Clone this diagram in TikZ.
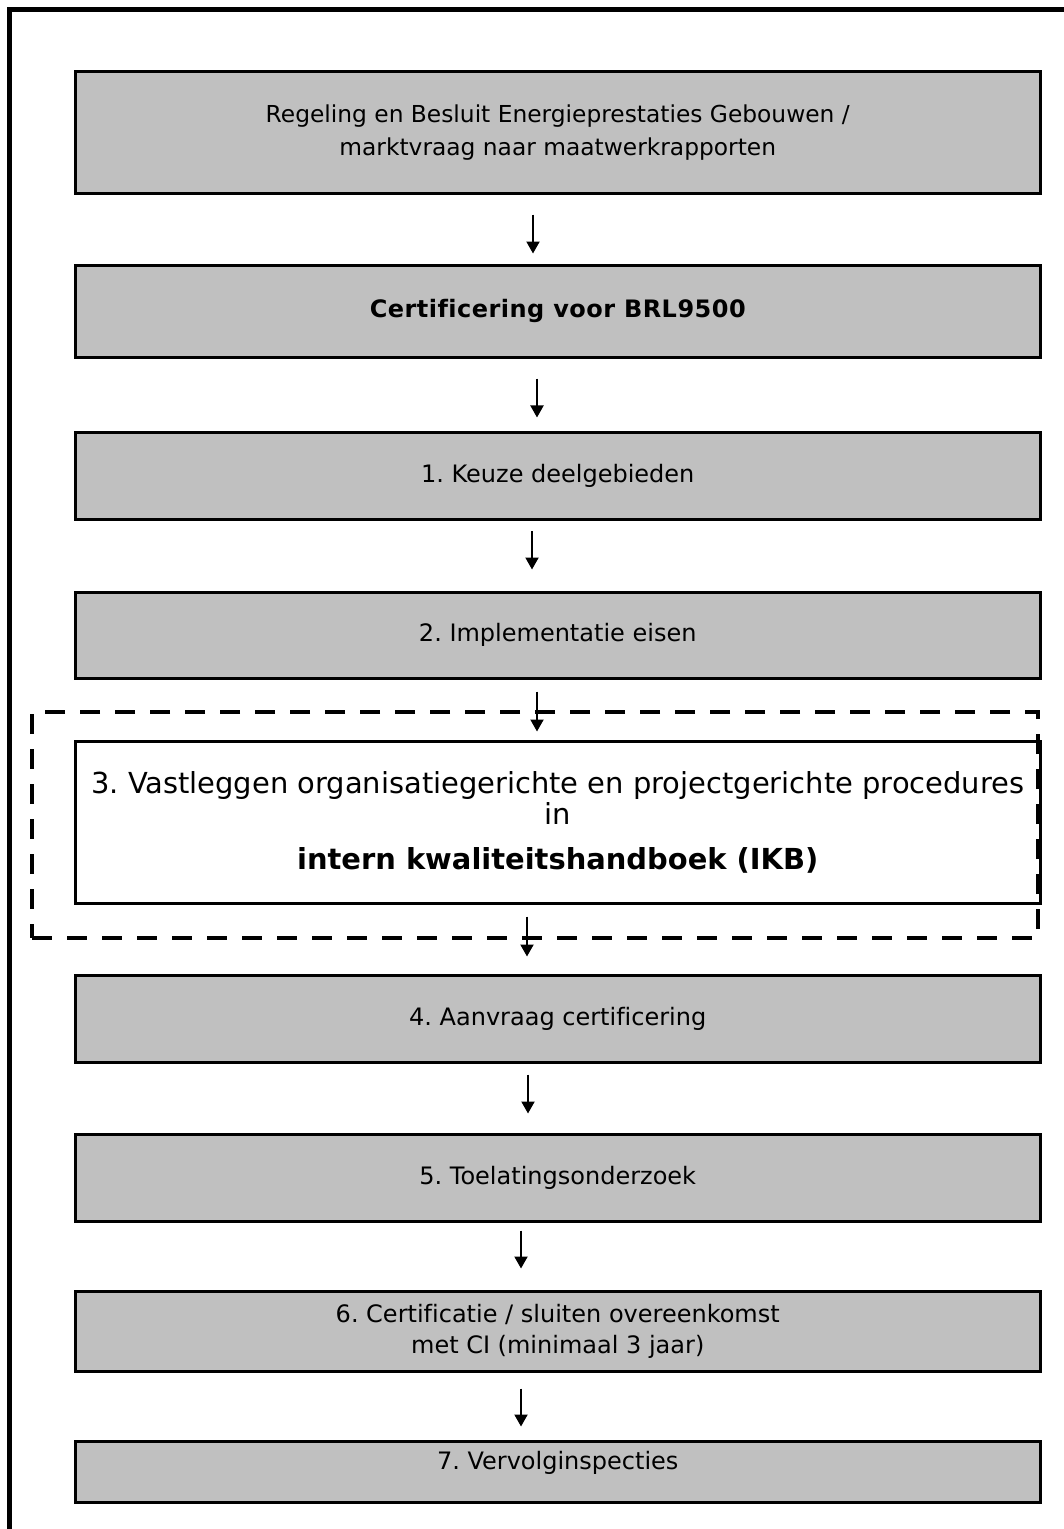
\documentclass[tikz,border=0pt]{standalone}
\usepackage{fontspec}
\setmainfont[Ligatures=NoCommon]{DejaVu Sans}
\usetikzlibrary{arrows.meta,calc}
\frenchspacing
\tikzset{
  box/.style={draw=black, line width=2.25pt, fill=boxgray, minimum width=723.375pt, inner sep=0pt, align=center, font=\fontsize{18pt}{24.75pt}\selectfont},
  arr/.style={line width=1.5pt, -{Triangle[width=9.75pt,length=9pt]}},
}
\definecolor{boxgray}{RGB}{192,192,192}
\begin{document}
\begin{tikzpicture}[x=0.75pt,y=-0.75pt]
\useasboundingbox (0,0) rectangle (1064,1529);
\clip (0,0) rectangle (1064,1529);
\fill[white] (0,0) rectangle (1064,1529);
\draw[line width=3.75pt] (1100,9.5) -- (9.5,9.5) -- (9.5,1600);

\node[box, minimum height=91.5pt, font=\fontsize{17.5pt}{24.75pt}\selectfont] (b1) at (557.75,132.5) {\raisebox{-4.5pt}{Regeling en Besluit Energieprestaties Gebouwen /}\\\raisebox{-4.5pt}{marktvraag naar maatwerkrapporten}};
\node[box, minimum height=69pt] (b2) at (557.75,311) {\bfseries\addfontfeatures{LetterSpace=2}Certificering voor BRL9500};
\node[box, minimum height=64.9pt] (b3) at (557.75,476.25) {1. Keuze deelgebieden};
\node[box, minimum height=64.5pt] (b4) at (557.75,635) {2. Implementatie eisen};
\node[box, fill=white, minimum height=121.5pt, font=\fontsize{21.7pt}{23.25pt}\selectfont] (b5) at (557.75,822) {3. Vastleggen organisatiegerichte en projectgerichte procedures\\in\\[10.5pt]\bfseries intern kwaliteitshandboek (IKB)};
\node[box, minimum height=65.25pt] (b6) at (557.75,1018.5) {4. Aanvraag certificering};
\node[box, minimum height=65.25pt] (b7) at (557.75,1177.5) {5. Toelatingsonderzoek};
\node[box, minimum height=60pt, font=\fontsize{18pt}{23.25pt}\selectfont] (b8) at (557.75,1331) {6. Certificatie / sluiten overeenkomst\\met CI (minimaal 3 jaar)};
\node[box, minimum height=45.75pt] (b9) at (557.75,1471.5) {\raisebox{17.25pt}{7. Vervolginspecties}};

\node[draw, dash pattern=on 15pt off 11.25pt, line width=3pt, minimum width=754.5pt, minimum height=169.5pt, inner sep=0pt] (grp) at (535,825) {};

\draw[arr] ($(b1.south)+(-24.75,19.5)$) -- ($(b2.north)+(-24.75,-10)$);
\draw[arr] ($(b2.south)+(-20.75,20)$) -- ($(b3.north)+(-20.75,-14)$);
\draw[arr] ($(b3.south)+(-25.75,10)$) -- ($(b4.north)+(-25.75,-21)$);
\draw[arr] ($(b4.south)+(-20.75,12)$) -- ($(b5.north)+(-20.75,-8)$);
\draw[arr] ($(b5.south)+(-30.75,12)$) -- ($(b6.north)+(-30.75,-17)$);
\draw[arr] ($(b6.south)+(-29.75,11)$) -- ($(b7.north)+(-29.75,-19)$);
\draw[arr] ($(b7.south)+(-36.75,8)$) -- ($(b8.north)+(-36.75,-21)$);
\draw[arr] ($(b8.south)+(-36.75,16)$) -- ($(b9.north)+(-36.75,-13)$);
\end{tikzpicture}
\end{document}
